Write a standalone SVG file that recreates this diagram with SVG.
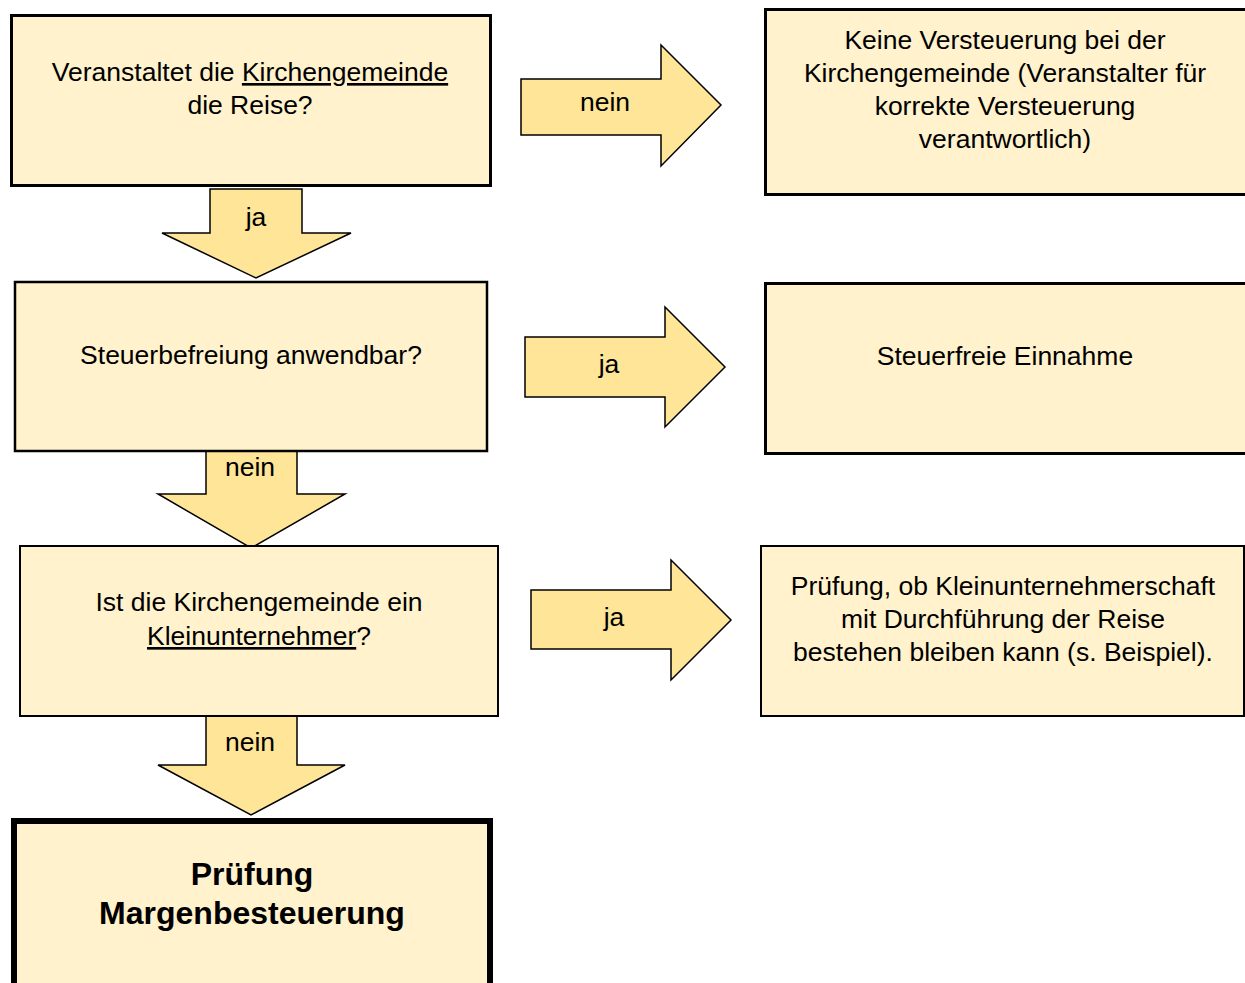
<svg xmlns="http://www.w3.org/2000/svg" width="1245" height="983" viewBox="0 0 1245 983">
<style>
.box{fill:#FFF2CC;stroke:#000}
.arr{fill:#FFE597;stroke:#000;stroke-width:1.5;stroke-linejoin:miter}
text{font-family:"Liberation Sans",Arial,sans-serif;font-size:26.5px;fill:#000;text-anchor:middle}
.b{font-weight:bold;font-size:32px}
.u{text-decoration:underline}
</style>
<rect width="1245" height="983" fill="#fff"/>
<g id="connectors">
  <g id="a1">
    <path class="arr" d="M210,189 H302 V233 H351 L256,278 L162,233 H210 Z"/>
    <text x="256" y="226">ja</text>
  </g>
  <g id="a2">
    <path class="arr" d="M521,79 H661 V45 L721,105 L661,166 V135 H521 Z"/>
    <text x="605" y="111">nein</text>
  </g>
  <g id="a3">
    <path class="arr" d="M206,451 H297 V494 H345 L251,548 L158,494 H206 Z"/>
    <text x="250" y="476">nein</text>
  </g>
  <g id="a4">
    <path class="arr" d="M525,337 H665 V307 L725,367 L665,427 V397 H525 Z"/>
    <text x="609" y="373">ja</text>
  </g>
  <g id="a5">
    <path class="arr" d="M531,590 H671 V560 L731,620 L671,680 V649 H531 Z"/>
    <text x="614" y="626">ja</text>
  </g>
  <g id="a6">
    <path class="arr" d="M206,716 H297 V765 H345 L251,815 L158,765 H206 Z"/>
    <text x="250" y="751">nein</text>
  </g>
</g>
<g id="n1">
  <rect class="box" x="11.5" y="15.5" width="479" height="170" stroke-width="3"/>
  <text x="250" y="81">Veranstaltet die <tspan class="u">Kirchengemeinde</tspan></text>
  <text x="250" y="114">die Reise?</text>
</g>
<g id="n2">
  <rect class="box" x="765.5" y="9.5" width="482" height="185" stroke-width="3"/>
  <text x="1005" y="49">Keine Versteuerung bei der</text>
  <text x="1005" y="82">Kirchengemeinde (Veranstalter für</text>
  <text x="1005" y="115">korrekte Versteuerung</text>
  <text x="1005" y="148">verantwortlich)</text>
</g>
<g id="n3">
  <rect class="box" x="15" y="282" width="472" height="169" stroke-width="2.5"/>
  <text x="251" y="364">Steuerbefreiung anwendbar?</text>
</g>
<g id="n4">
  <rect class="box" x="765.5" y="283.5" width="482" height="170" stroke-width="3"/>
  <text x="1005" y="365">Steuerfreie Einnahme</text>
</g>
<g id="n5">
  <rect class="box" x="20" y="546" width="478" height="170" stroke-width="2"/>
  <text x="259" y="611">Ist die Kirchengemeinde ein</text>
  <text x="259" y="645"><tspan class="u">Kleinunternehmer</tspan>?</text>
</g>
<g id="n6">
  <rect class="box" x="761" y="546" width="483" height="170" stroke-width="2"/>
  <text x="1003" y="595">Prüfung, ob Kleinunternehmerschaft</text>
  <text x="1003" y="628">mit Durchführung der Reise</text>
  <text x="1003" y="661">bestehen bleiben kann (s. Beispiel).</text>
</g>
<g id="n7">
  <rect class="box" x="14" y="821" width="476" height="175" stroke-width="6"/>
  <text class="b" x="252" y="885">Prüfung</text>
  <text class="b" x="252" y="924">Margenbesteuerung</text>
</g>
</svg>
